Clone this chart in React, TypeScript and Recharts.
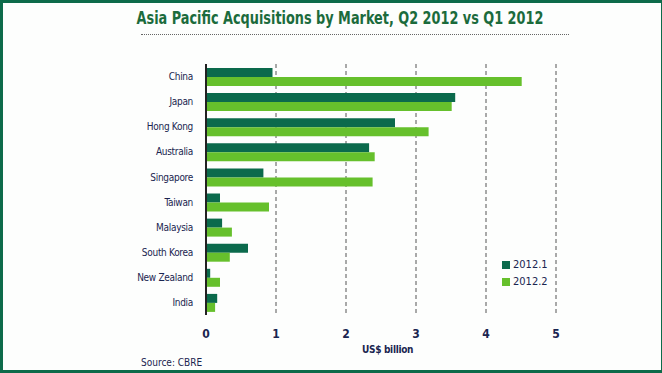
import { BarChart, Bar, XAxis, YAxis, CartesianGrid } from 'recharts';

const markets = ['China', 'Japan', 'Hong Kong', 'Australia', 'Singapore', 'Taiwan', 'Malaysia', 'South Korea', 'New Zealand', 'India'];
const q1 = [0.95, 3.56, 2.7, 2.33, 0.82, 0.2, 0.23, 0.6, 0.06, 0.16];
const q2 = [4.51, 3.51, 3.18, 2.41, 2.38, 0.9, 0.37, 0.34, 0.2, 0.13];
const xTicks = [0, 1, 2, 3, 4, 5];
const series = [
  { key: 'q1', name: '2012.1', color: '#0b6a4c' },
  { key: 'q2', name: '2012.2', color: '#66c02c' },
];

const data = markets.map((m, i) => ({ market: m, q1: q1[i], q2: q2[i] }));

const font = '"DejaVu Sans Condensed", sans-serif';
const ink = '#1a2550';

export default function App() {
  return (
    <div
      style={{
        position: 'absolute',
        left: 0,
        top: 0,
        width: 662,
        height: 373,
        background: '#fdfefd',
        boxSizing: 'border-box',
        borderTop: '3px solid #0d6b4a',
        borderLeft: '3px solid #0d6b4a',
        borderBottom: '3px solid #0d6b4a',
        borderRight: '1px solid #0d6b4a',
        fontFamily: font,
        overflow: 'hidden',
      }}
    >
      <div
        style={{
          position: 'absolute',
          top: 5,
          left: 0,
          width: 674,
          textAlign: 'center',
          fontSize: 17,
          fontWeight: 'bold',
          color: '#1b6b3c',
          transform: 'scaleX(0.84)',
        }}
      >
        Asia Pacific Acquisitions by Market, Q2 2012 vs Q1 2012
      </div>
      <div
        style={{
          position: 'absolute',
          top: 31,
          left: 138,
          width: 428,
          borderTop: '1px dotted #666',
        }}
      />
      <div style={{ position: 'absolute', left: -3, top: -3 }}>
        <BarChart
          width={662}
          height={373}
          data={data}
          layout="vertical"
          barSize={9}
          barGap={0}
          margin={{ top: 64, right: 106, bottom: 28, left: 0 }}
        >
          <CartesianGrid horizontal={false} stroke="#555" strokeDasharray="4 3" />
          <XAxis
            type="number"
            domain={[0, 5]}
            ticks={xTicks}
            axisLine={false}
            tickLine={false}
            height={30}
            tickMargin={8}
            tick={{ fill: ink, fontSize: 12, fontFamily: font, fontWeight: 'bold' }}
          />
          <YAxis
            type="category"
            dataKey="market"
            width={206}
            axisLine={{ stroke: '#222', strokeWidth: 2 }}
            tickLine={false}
            tickMargin={7}
            tick={{ fill: ink, fontSize: 10, fontFamily: font, letterSpacing: -0.3 }}
          />
          {series.map((s) => (
            <Bar key={s.key} dataKey={s.key} name={s.name} fill={s.color} isAnimationActive={false} />
          ))}
        </BarChart>
      </div>
      <div style={{ position: 'absolute', left: 499, top: 253, fontSize: 11, color: ink }}>
        {series.map((s) => (
          <div key={s.key} style={{ display: 'flex', alignItems: 'center', height: 17 }}>
            <span style={{ display: 'inline-block', width: 8, height: 8, background: s.color, marginRight: 3 }} />
            {s.name}
          </div>
        ))}
      </div>
      <div style={{ position: 'absolute', left: 359, top: 341, fontSize: 10, fontWeight: 'bold', color: ink, letterSpacing: -0.3 }}>
        US$ billion
      </div>
      <div style={{ position: 'absolute', left: 138, top: 354, fontSize: 10, color: ink }}>
        Source: CBRE
      </div>
    </div>
  );
}
